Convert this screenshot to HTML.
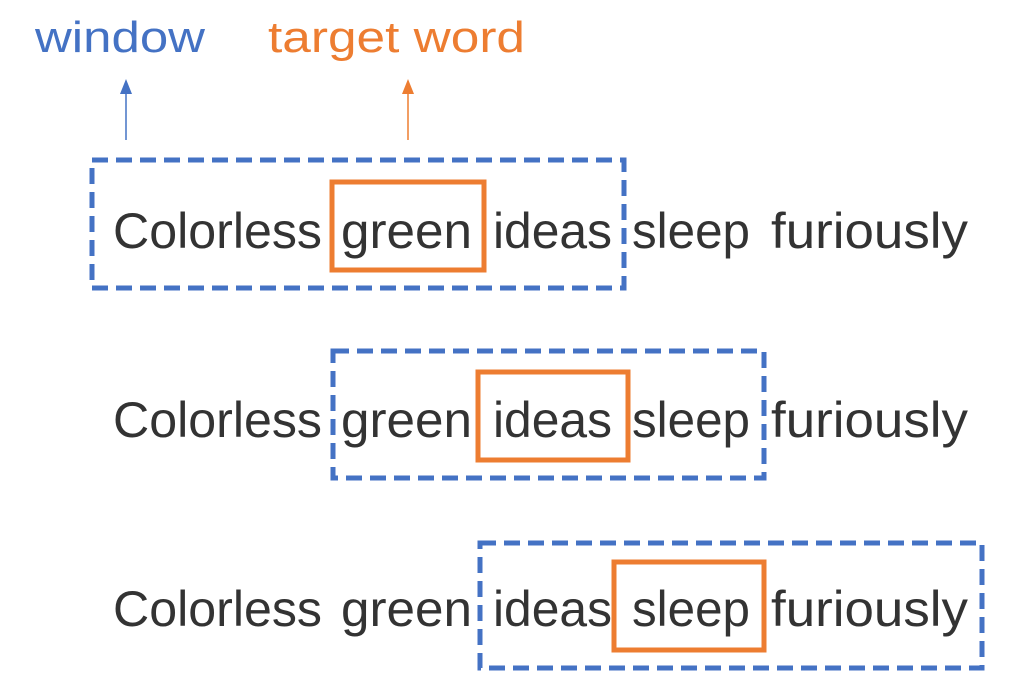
<!DOCTYPE html>
<html><head><meta charset="utf-8"><style>
html,body{margin:0;padding:0;background:#fff;}
svg{display:block;}
text{font-family:"Liberation Sans","DejaVu Sans",sans-serif;}
</style></head><body>
<svg width="1016" height="698" viewBox="0 0 1016 698" xmlns="http://www.w3.org/2000/svg">
<text x="35" y="52" font-size="44" fill="#4472C4" textLength="170" lengthAdjust="spacingAndGlyphs">window</text>
<text x="268" y="52" font-size="44" fill="#ED7D31" textLength="257" lengthAdjust="spacingAndGlyphs">target word</text>
<line x1="126" y1="140" x2="126" y2="92" stroke="#4472C4" stroke-width="1.5"/>
<polygon points="126,79 120,94 132,94" fill="#4472C4"/>
<line x1="408" y1="140" x2="408" y2="92" stroke="#ED7D31" stroke-width="1.5"/>
<polygon points="408,79 402,94 414,94" fill="#ED7D31"/>
<g fill="#333" font-size="50">
<g id="r">
<text x="113" y="248" textLength="209" lengthAdjust="spacingAndGlyphs">Colorless</text>
<text x="341" y="248" textLength="131" lengthAdjust="spacingAndGlyphs">green</text>
<text x="493" y="248" textLength="119" lengthAdjust="spacingAndGlyphs">ideas</text>
<text x="632" y="248" textLength="118" lengthAdjust="spacingAndGlyphs">sleep</text>
<text x="771" y="248" textLength="197" lengthAdjust="spacingAndGlyphs">furiously</text>
</g>
<use href="#r" y="189"/>
<use href="#r" y="378"/>
</g>
<g fill="none" stroke-width="5">
<rect x="92" y="160" width="532" height="128" stroke="#4472C4" stroke-dasharray="16 8"/>
<rect x="332" y="182" width="152" height="88" stroke="#ED7D31"/>
<rect x="333" y="351" width="431" height="127" stroke="#4472C4" stroke-dasharray="16 8"/>
<rect x="478" y="372" width="150" height="88" stroke="#ED7D31"/>
<rect x="480" y="543" width="502" height="125" stroke="#4472C4" stroke-dasharray="16 8"/>
<rect x="614" y="562" width="150" height="88" stroke="#ED7D31"/>
</g>
</svg>
</body></html>
